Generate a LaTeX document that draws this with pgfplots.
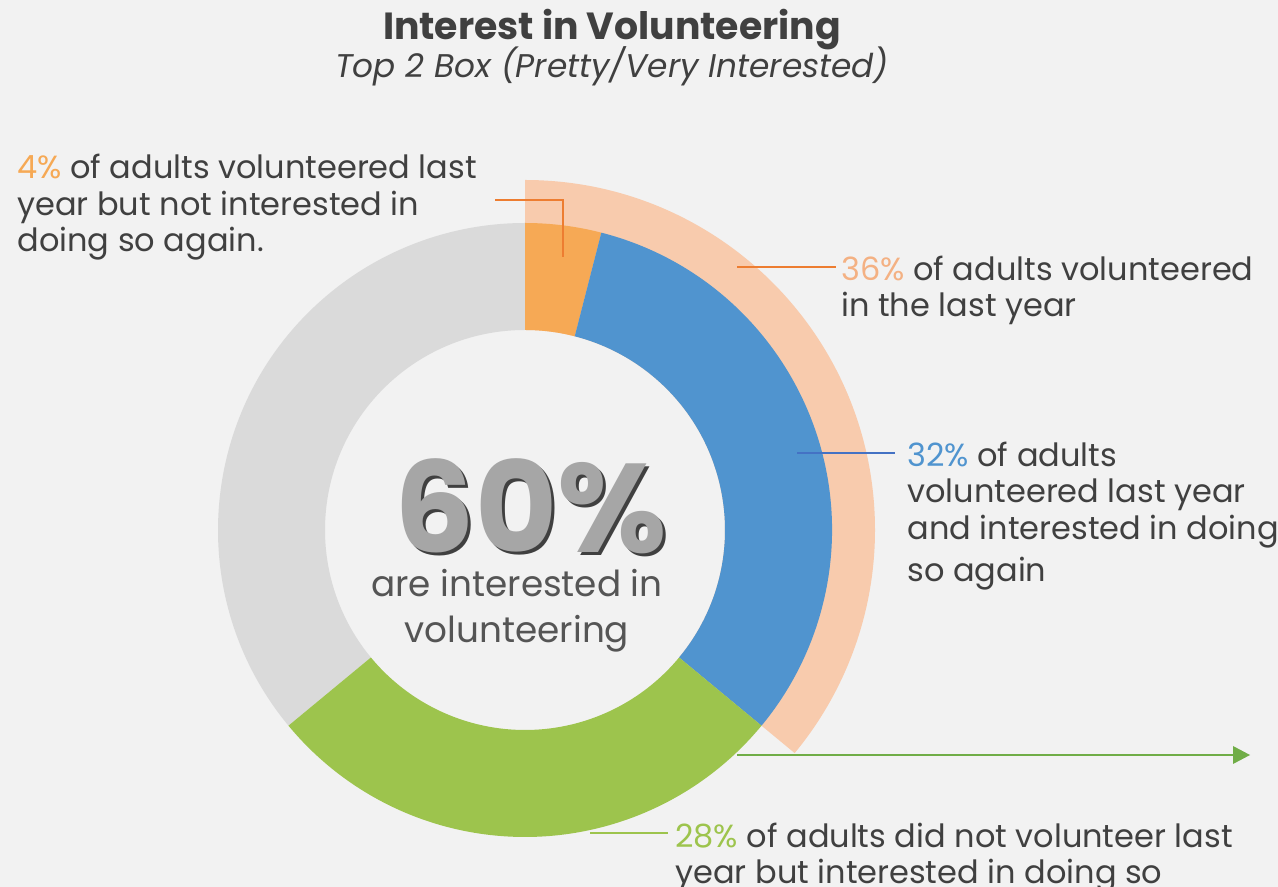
\documentclass[border=0pt]{standalone}
\usepackage{fontspec}
\setmainfont{Poppins}
\usepackage{pgfplots}
\pgfplotsset{compat=1.18}
\usepackage{pgfplotstable}
\definecolor{bg}{HTML}{F2F2F2}
\definecolor{cgrey}{HTML}{DADADA}
\definecolor{corange}{HTML}{F6A955}
\definecolor{cblue}{HTML}{5094CF}
\definecolor{cgreen}{HTML}{9DC44D}
\definecolor{cpeach}{HTML}{F8CBAD}
\definecolor{lorange}{HTML}{ED7D31}
\definecolor{lblue}{HTML}{4472C4}
\definecolor{larrow}{HTML}{70AD47}
\definecolor{tpeach}{HTML}{F4B183}
\definecolor{txt}{HTML}{404040}
\definecolor{tsix}{HTML}{A6A6A6}
\definecolor{tsub}{HTML}{555555}

\pgfplotstableread{
label value
notagain 4
again 32
new 28
notinterested 36
}\donutdata

\begin{document}
\begin{tikzpicture}
\pgfplotstablegetelem{0}{value}\of\donutdata \let\vA\pgfplotsretval
\pgfplotstablegetelem{1}{value}\of\donutdata \let\vB\pgfplotsretval
\pgfplotstablegetelem{2}{value}\of\donutdata \let\vC\pgfplotsretval
\pgfplotstablegetelem{3}{value}\of\donutdata \let\vD\pgfplotsretval
\pgfmathsetmacro\aA{90}
\pgfmathsetmacro\aB{\aA-3.6*\vA}
\pgfmathsetmacro\aC{\aB-3.6*\vB}
\pgfmathsetmacro\aD{\aC-3.6*\vC}
\pgfmathsetmacro\aE{\aD-3.6*\vD}
% radii in bp (1 px = 0.5 bp)
\def\Rout{153.5}\def\Rin{100}\def\Rpeach{175}
\pgfmathsetmacro\dO{\Rin-\Rout}
\pgfmathsetmacro\dP{\Rin-\Rpeach}
\begin{axis}[width=639bp,height=443.5bp,scale only axis,
  xmin=0,xmax=1278,ymin=0,ymax=887,hide axis,clip=false]
\fill[bg] (axis cs:0,0) rectangle (axis cs:1278,887);
% outer peach ring (36% volunteered last year)
\fill[cpeach] (axis cs:525,357) ++(\aA:\Rpeach bp) arc[start angle=\aA,end angle=\aC,radius=\Rpeach bp]
  -- ++(\aC:\dP bp) arc[start angle=\aC,end angle=\aA,radius=\Rin bp] -- cycle;
% donut segments
\fill[cgrey] (axis cs:525,357) ++(\aD:\Rout bp) arc[start angle=\aD,end angle=\aE,radius=\Rout bp]
  -- ++(\aE:\dO bp) arc[start angle=\aE,end angle=\aD,radius=\Rin bp] -- cycle;
\fill[corange] (axis cs:525,357) ++(\aA:\Rout bp) arc[start angle=\aA,end angle=\aB,radius=\Rout bp]
  -- ++(\aB:\dO bp) arc[start angle=\aB,end angle=\aA,radius=\Rin bp] -- cycle;
\fill[cblue] (axis cs:525,357) ++(\aB:\Rout bp) arc[start angle=\aB,end angle=\aC,radius=\Rout bp]
  -- ++(\aC:\dO bp) arc[start angle=\aC,end angle=\aB,radius=\Rin bp] -- cycle;
\fill[cgreen] (axis cs:525,357) ++(\aC:\Rout bp) arc[start angle=\aC,end angle=\aD,radius=\Rout bp]
  -- ++(\aD:\dO bp) arc[start angle=\aD,end angle=\aC,radius=\Rin bp] -- cycle;
% leader lines
\draw[lorange,line width=1.2bp] (axis cs:495,687) -- (axis cs:563,687) -- (axis cs:563,630);
\draw[lorange,line width=1.2bp] (axis cs:737,620) -- (axis cs:836,620);
\draw[lblue,line width=1.2bp] (axis cs:797,434) -- (axis cs:895,434);
\draw[cgreen,line width=1.2bp] (axis cs:590,54) -- (axis cs:668,54);
\draw[larrow,line width=0.9bp] (axis cs:737,132) -- (axis cs:1236,132);
\fill[larrow] (axis cs:1250,132) -- (axis cs:1233,141) -- (axis cs:1233,123) -- cycle;
% titles
\node[anchor=base,txt,inner sep=0pt,font=\bfseries\fontsize{18.9bp}{22bp}\selectfont] at (axis cs:612,847) {Interest in Volunteering};
\node[anchor=base,txt,inner sep=0pt,font=\itshape\fontsize{16.4bp}{19bp}\selectfont] at (axis cs:612,809) {Top 2 Box (Pretty/Very Interested)};
% body text
\tikzset{body/.style={anchor=base west,txt,inner sep=0pt,font=\fontsize{16bp}{18bp}\selectfont}}
\node[body] at (axis cs:17,708) {{\color{corange}4\%} of adults volunteered last};
\node[body] at (axis cs:17,671) {year but not interested in};
\node[body] at (axis cs:17,635) {doing so again.};
\node[body] at (axis cs:841,606) {{\color{tpeach}36\%} of adults volunteered};
\node[body] at (axis cs:841,570) {in the last year};
\node[body] at (axis cs:907,420) {{\color{cblue}32\%} of adults};
\node[body] at (axis cs:907,384) {volunteered last year};
\node[body] at (axis cs:907,347) {and interested in doing};
\node[body] at (axis cs:907,305) {so again};
\node[body] at (axis cs:675,40) {{\color{cgreen}28\%} of adults did not volunteer last};
\node[body] at (axis cs:675,4) {year but interested in doing so};
% centre
\node[anchor=base,inner sep=0pt,text=txt,font=\bfseries\fontsize{63bp}{63bp}\selectfont] at (axis cs:534,331) {60\%};
\node[anchor=base,inner sep=0pt,text=tsix,font=\bfseries\fontsize{63bp}{63bp}\selectfont] at (axis cs:531,334) {60\%};
\node[anchor=base,inner sep=0pt,text=tsub,font=\fontsize{17.9bp}{20bp}\selectfont] at (axis cs:517,290) {are interested in};
\node[anchor=base,inner sep=0pt,text=tsub,font=\fontsize{17.9bp}{20bp}\selectfont] at (axis cs:517,244) {volunteering};
\end{axis}
\pgfresetboundingbox
\path (current axis.south west) rectangle (current axis.north east);
\end{tikzpicture}
\end{document}
